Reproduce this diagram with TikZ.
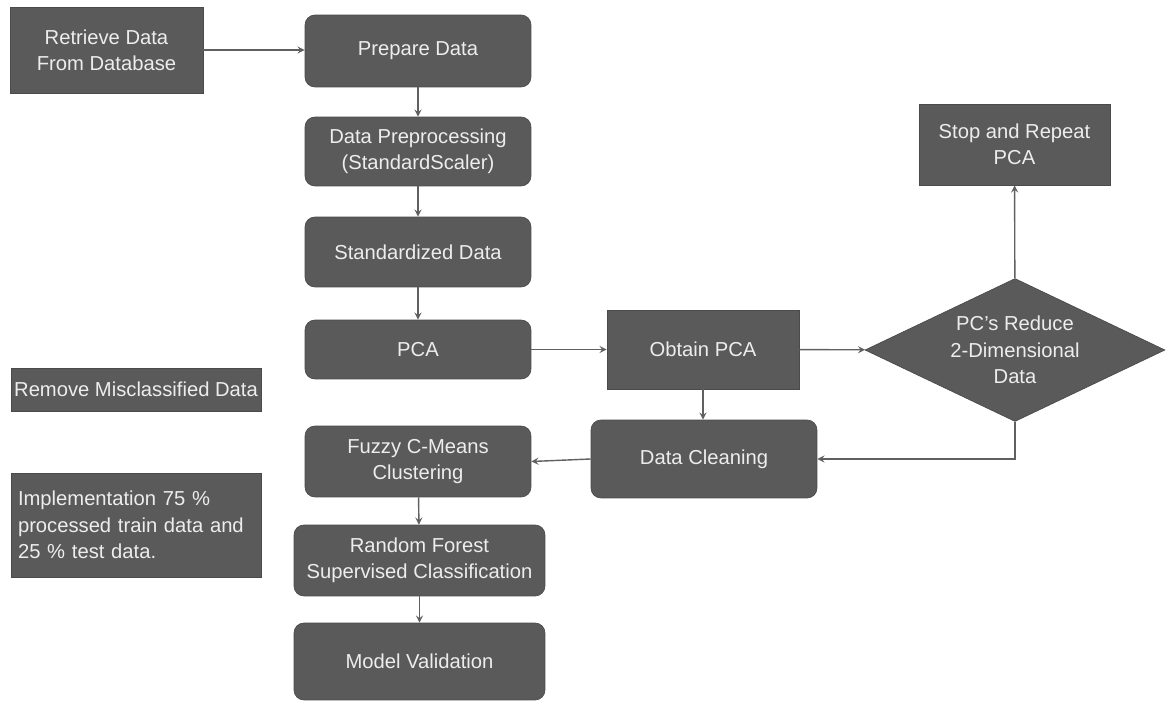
\documentclass[tikz,border=0pt]{standalone}
\usepackage{fontspec}
\setmainfont{Liberation Sans}
\usepackage{tikz}
\usetikzlibrary{shapes.geometric}

\definecolor{boxgray}{HTML}{5A5A5A}
\definecolor{edgegray}{HTML}{4A4A4A}
\definecolor{linegray}{HTML}{606060}
\definecolor{textgray}{HTML}{EDEDED}

\begin{document}
\begin{tikzpicture}[>=stealth, x=0.02cm, y=-0.02cm,
  box/.style={draw=edgegray, fill=boxgray, text=textgray, align=center,
    inner sep=0pt, font=\fontsize{11.5}{15}\selectfont},
  roundbox/.style={box, rounded corners=0.2cm},
  flow/.style={->, draw=linegray, line width=0.8pt},
]
        \useasboundingbox (0,0) rectangle (1169,702);
        % left column
        \node[box, minimum width=3.86cm, minimum height=1.72cm] (retrieve) at (106.5,50) {Retrieve Data\\From Database};
        \node[box, minimum width=5.0cm, minimum height=0.86cm] (remove) at (136,389.5) {Remove Misclassified Data};
        \node[box, minimum width=5.0cm, minimum height=2.08cm, text width=4.72cm, align=left] (implement) at (136,525)
          {Implementation 75 \%\\processed train data and\\25 \% test data.};
        % main column
        \node[roundbox, minimum width=4.52cm, minimum height=1.44cm] (prepare) at (418,51) {Prepare Data};
        \node[roundbox, minimum width=4.52cm, minimum height=1.38cm] (preproc) at (418,151.5) {Data Preprocessing\\(StandardScaler)};
        \node[roundbox, minimum width=4.52cm, minimum height=1.40cm] (standard) at (418,252) {Standardized Data};
        \node[roundbox, minimum width=4.52cm, minimum height=1.18cm] (pca) at (418,349.5) {PCA};
        \node[roundbox, minimum width=4.52cm, minimum height=1.42cm] (fuzzy) at (418,461.5) {Fuzzy C-Means\\Clustering};
        \node[roundbox, minimum width=5.02cm, minimum height=1.42cm] (forest) at (419.5,560.5) {Random Forest\\Supervised Classification};
        \node[roundbox, minimum width=5.02cm, minimum height=1.54cm] (validation) at (419.5,661.5) {Model Validation};
        % right part
        \node[box, minimum width=3.84cm, minimum height=1.58cm] (obtain) at (703,349.5) {Obtain PCA};
        \node[roundbox, minimum width=4.52cm, minimum height=1.56cm] (cleaning) at (704,459) {Data Cleaning};
        \node[box, diamond, aspect=2.1, minimum width=6cm, minimum height=2.86cm] (reduce) at (1015,350)
          {PC's Reduce\\2-Dimensional\\Data};
        \node[box, minimum width=3.82cm, minimum height=1.62cm] (stop) at (1014.5,144.5) {Stop and Repeat\\PCA};

        \draw[flow] (retrieve.east) -- (retrieve.east -| prepare.west);
        \draw[flow] (prepare) -- (preproc);
        \draw[flow] (preproc) -- (standard);
        \draw[flow] (standard) -- (pca);
        \draw[flow] (pca) -- (obtain);
        \draw[flow] (obtain) -- (reduce);
        \draw[flow] (reduce) -- (stop);
        \draw[flow] (reduce.south) |- (cleaning.east);
        \draw[flow] (obtain.south) -- (obtain.south |- cleaning.north);
        \draw[flow] (cleaning.west) -- (fuzzy.east);
        \draw[flow] (fuzzy) -- (forest);
        \draw[flow] (forest) -- (validation);
      \end{tikzpicture}
\end{document}
